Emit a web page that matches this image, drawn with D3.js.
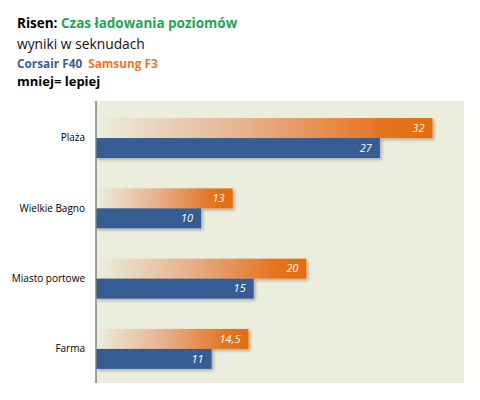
<!DOCTYPE html>
<html><head><meta charset="utf-8">
<script src="https://cdn.jsdelivr.net/npm/d3@7"></script>
<style>body{margin:0;background:#fff}svg{display:block}</style>
</head><body>
<script>
const categories = ["Plaża", "Wielkie Bagno", "Miasto portowe", "Farma"];
const samsungValues = [32, 13, 20, 14.5];
const corsairValues = [27, 10, 15, 11];
const samsungLabels = ["32", "13", "20", "14,5"];
const corsairLabels = ["27", "10", "15", "11"];
const seriesNames = ["Corsair F40", "Samsung F3"];

const W = 480, H = 400;
const svg = d3.select("body").append("svg").attr("width", W).attr("height", H);
const font = "Open Sans, Liberation Sans, sans-serif";

const plot = {left: 96, right: 464, top: 101, bottom: 383};
const x = d3.scaleLinear().domain([0, 35]).range([plot.left, plot.right]);
const y = d3.scaleBand().domain(categories).range([100.5, 386.5]).paddingInner(0.431).paddingOuter(0.25);
const sub = d3.scaleBand().domain(["s", "c"]).range([0, y.bandwidth()]);

const defs = svg.append("defs");
const g = defs.append("linearGradient").attr("id", "og").attr("x1", "0").attr("x2", "1").attr("y1", "0").attr("y2", "0");
g.append("stop").attr("offset", "0").attr("stop-color", "#ebeedd");
g.append("stop").attr("offset", "0.45").attr("stop-color", "#e8b08c");
g.append("stop").attr("offset", "0.85").attr("stop-color", "#e4741f");
g.append("stop").attr("offset", "1").attr("stop-color", "#e46c0a");
const f = defs.append("filter").attr("id", "sh").attr("x", "-5%").attr("y", "-20%").attr("width", "115%").attr("height", "160%");
f.append("feDropShadow").attr("dx", 2).attr("dy", 2).attr("stdDeviation", 1.5).attr("flood-color", "#000").attr("flood-opacity", 0.25);

svg.append("rect").attr("x", plot.left).attr("y", plot.top).attr("width", plot.right - plot.left).attr("height", plot.bottom - plot.top).attr("fill", "#ebeedd");

// title
const t = svg.append("g").attr("font-family", font);
const t1 = t.append("text").attr("x", 17).attr("y", 28).attr("font-size", 13.5).attr("font-weight", "bold");
t1.append("tspan").attr("fill", "#000").text("Risen: ");
t1.append("tspan").attr("fill", "#1fa652").text("Czas ładowania poziomów");
t.append("text").attr("x", 17).attr("y", 49).attr("font-size", 13.8).attr("fill", "#111").text("wyniki w seknudach");
const t3 = t.append("text").attr("x", 17).attr("y", 68).attr("font-size", 11.8).attr("font-weight", "bold");
t3.append("tspan").attr("fill", "#3a5f92").text(seriesNames[0]);
t3.append("tspan").attr("fill", "#e8782a").attr("dx", 6).text(seriesNames[1]);
t.append("text").attr("x", 17).attr("y", 86).attr("font-size", 13).attr("font-weight", "bold").attr("fill", "#000").text("mniej= lepiej");

// bars
const bars = svg.append("g");
categories.forEach((c, i) => {
  bars.append("rect").attr("x", x(0)).attr("y", y(c) + sub("s")).attr("width", x(samsungValues[i]) - x(0)).attr("height", sub.bandwidth())
    .attr("fill", "url(#og)").attr("filter", "url(#sh)");
  bars.append("rect").attr("x", x(0)).attr("y", y(c) + sub("c")).attr("width", x(corsairValues[i]) - x(0)).attr("height", sub.bandwidth())
    .attr("fill", "#355d94").attr("filter", "url(#sh)");
  bars.append("text").attr("x", x(samsungValues[i]) - 8).attr("y", y(c) + sub("s") + sub.bandwidth() / 2).attr("dy", "0.35em")
    .attr("text-anchor", "end").attr("font-family", font).attr("font-size", 11).attr("font-style", "italic").attr("fill", "#fff").text(samsungLabels[i]);
  bars.append("text").attr("x", x(corsairValues[i]) - 8).attr("y", y(c) + sub("c") + sub.bandwidth() / 2).attr("dy", "0.35em")
    .attr("text-anchor", "end").attr("font-family", font).attr("font-size", 11).attr("font-style", "italic").attr("fill", "#fff").text(corsairLabels[i]);
});

// axis
const ax = svg.append("g").attr("transform", `translate(${plot.left},0)`)
  .call(d3.axisLeft(y).tickSize(0).tickPadding(11));
ax.select(".domain").remove();
ax.append("line").attr("x1", 0).attr("x2", 0).attr("y1", plot.top).attr("y2", plot.bottom).attr("stroke", "#808080").attr("stroke-width", 1.5);
ax.selectAll(".tick text").attr("font-family", font).attr("font-size", 10).attr("fill", "#000");
</script>
</body></html>
